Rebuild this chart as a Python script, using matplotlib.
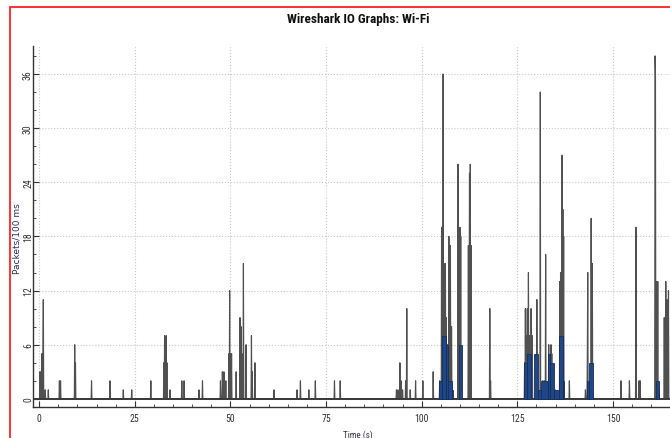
import matplotlib
matplotlib.use("Agg")
import matplotlib.pyplot as plt
import numpy as np
from matplotlib.patches import Rectangle
from matplotlib.ticker import MultipleLocator

# all packets, packets per 100 ms interval (time in s, count); other intervals are 0
all_time = [
    0.2, 0.3, 0.5, 0.7, 1.0, 1.1, 1.6, 2.4, 5.3, 5.6, 9.3, 9.5,
    13.7, 18.5, 22.0, 24.2, 29.2, 32.6, 32.8, 33.2, 33.4, 34.2,
    37.3, 37.9, 41.8, 42.7, 47.4, 47.9, 48.3, 48.8, 49.6, 49.8, 50.1, 50.3, 51.5,
    52.5, 52.8, 53.0, 53.4, 54.1, 55.5, 55.7, 56.4,
    61.4, 67.4, 68.3, 70.5, 72.2, 77.2, 78.7,
    93.4, 93.8, 94.3, 94.6, 95.0, 95.8, 96.1, 97.0, 98.4, 100.3, 103.0, 104.7,
    105.2, 105.4, 105.6, 105.8, 106.0, 106.2, 106.4, 106.7, 107.1, 107.3, 107.5, 107.8,
    109.5, 109.7, 110.0, 110.2, 112.2, 112.4, 112.5, 112.7, 112.9, 117.8, 118.0,
    126.9, 127.1, 127.3, 127.6, 127.9, 128.1, 128.6, 128.9, 130.1,
    131.0, 131.6, 132.0, 132.4, 133.2, 133.8, 134.0, 134.4, 134.9,
    136.1, 136.3, 136.7, 136.9, 137.1, 138.6,
    142.8, 143.3, 143.4, 144.3, 144.6,
    152.1, 154.3, 156.0, 156.8, 157.1,
    161.0, 161.1, 161.3, 161.7, 162.0, 163.4, 163.8, 164.1, 164.5,
]
all_count = [
    3, 2, 3, 5, 5, 11, 1, 1, 2, 2, 6, 4,
    2, 2, 1, 1, 2, 4, 7, 7, 4, 1,
    2, 2, 1, 2, 2, 3, 3, 2, 5, 12, 5, 5, 3,
    9, 8, 5, 15, 6, 7, 3, 4,
    1, 1, 2, 1, 2, 2, 2,
    1, 1, 4, 2, 1, 2, 10, 1, 2, 2, 3, 2,
    19, 15, 36, 15, 12, 15, 9, 6, 18, 9, 17, 8,
    26, 10, 19, 18, 17, 10, 25, 26, 17, 10, 2,
    4, 10, 7, 10, 14, 7, 10, 7, 11,
    34, 2, 2, 16, 6, 6, 5, 2, 1,
    13, 14, 27, 21, 18, 2,
    1, 5, 14, 20, 15,
    2, 2, 19, 2, 2,
    38, 36, 13, 13, 1, 9, 13, 11, 12,
]

# filtered packets, shown as bars (interval start, interval end, packets/100 ms)
flt_start = [104.5, 105.4, 106.3, 107.0, 108.0, 109.7,
             126.8, 127.4, 129.3, 130.4, 131.2, 132.9, 133.6, 134.7, 135.9, 136.9,
             143.2, 143.7, 161.3]
flt_end = [105.4, 106.3, 107.0, 108.0, 108.3, 110.5,
           127.4, 128.7, 130.3, 131.2, 132.9, 133.6, 134.7, 135.8, 136.9, 137.2,
           143.7, 144.7, 162.1]
flt_count = [2, 7, 6, 2, 1, 6,
             4, 5, 5, 1, 2, 5, 4, 1, 7, 2,
             2, 4, 2]

t_end = 168.3
bins = np.round(np.arange(0, t_end, 0.1), 1)
packets = np.zeros(len(bins))
for t, c in zip(all_time, all_count):
    packets[int(round(t * 10))] = c

fig = plt.figure(figsize=(6.7, 4.39), dpi=100)
ax = fig.add_axes([33 / 670, 31 / 439, 650 / 670, 361 / 439])

narrow = ['Roboto Condensed', 'Liberation Sans Narrow', 'DejaVu Sans']

ax.plot(bins, packets, color='#505050', linewidth=0.85, zorder=3)
ax.axhline(0, color='#3a3a3a', linewidth=1.4, zorder=3)
ax.bar(flt_start, flt_count, width=np.array(flt_end) - np.array(flt_start),
       align='edge', color='#1f4788', edgecolor='#172f5c', linewidth=0.6,
       zorder=4)

ax.set_xlim(-1.6, t_end)
ax.set_ylim(-0.9, 39.1)

ax.set_xticks(range(0, 151, 25))
ax.xaxis.set_minor_locator(MultipleLocator(5))
ax.set_yticks(range(0, 37, 6))
ax.yaxis.set_minor_locator(MultipleLocator(2))
ax.grid(True, which='major', color='#c8c8c8', linestyle=':', linewidth=0.8)
ax.set_axisbelow(True)

ax.tick_params(which='both', direction='in', colors='#333333', labelsize=7)
ax.tick_params(which='major', length=4, width=0.8)
ax.tick_params(which='minor', length=2, width=0.6)
ax.tick_params(axis='x', pad=4)
ax.tick_params(axis='y', pad=0)
for lbl in ax.get_xticklabels() + ax.get_yticklabels():
    lbl.set_family(narrow)
for lbl in ax.get_yticklabels():
    lbl.set_rotation(90)
    lbl.set_va('center')

for side in ('top', 'right'):
    ax.spines[side].set_visible(False)
for side in ('left', 'bottom'):
    ax.spines[side].set_color('#333333')
    ax.spines[side].set_linewidth(1.0)

ax.set_xlabel('Time (s)', fontsize=6.5, family=narrow, color='#333344', labelpad=5)
ax.set_ylabel('Packets/100 ms', fontsize=6.5, color='#2a2a6a')
ax.yaxis.set_label_coords(-0.018, 0.47)
ax.set_title('Wireshark IO Graphs: Wi-Fi', fontsize=9.5, fontweight='bold',
             family=narrow, color='#111111', pad=17)

# red frame around the graph window
fig.patches.append(Rectangle((10 / 670, -0.05), 1.1, 0.05 + 431 / 439,
                             transform=fig.transFigure, fill=False,
                             edgecolor='#ff2020', linewidth=1.3))

fig.savefig('out.png', dpi=100)
